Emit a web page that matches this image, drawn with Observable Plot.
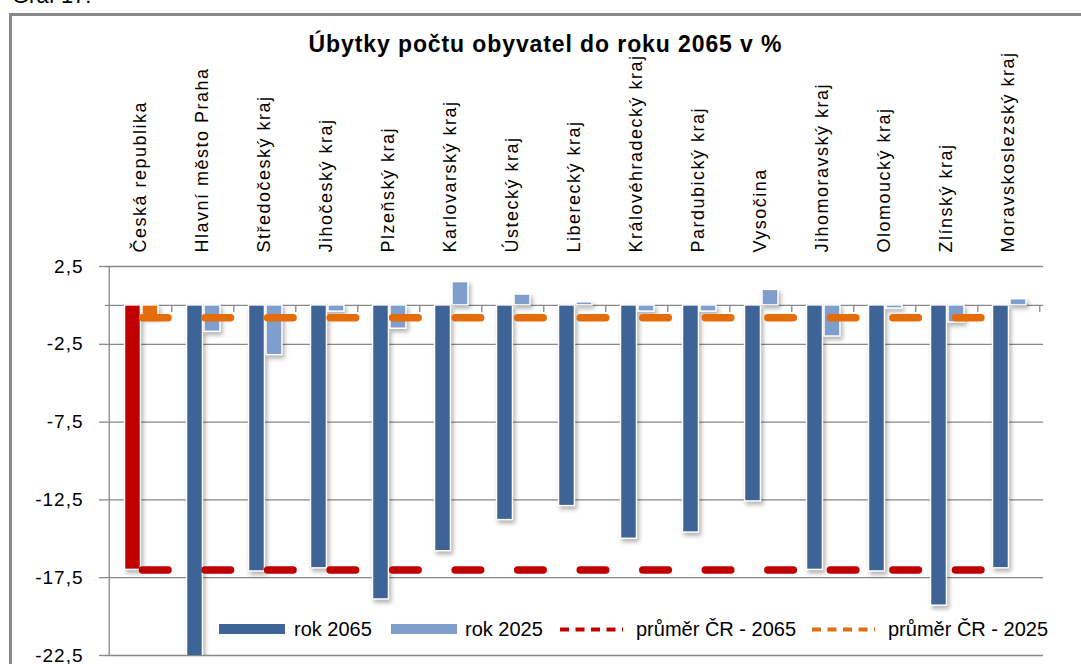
<!DOCTYPE html>
<html><head><meta charset="utf-8">
<script src="https://cdn.jsdelivr.net/npm/d3@7"></script>
<script src="https://cdn.jsdelivr.net/npm/@observablehq/plot@0.6"></script>
<style>
html,body{margin:0;padding:0;background:#fff;width:1081px;height:664px;overflow:hidden;font-family:"Liberation Sans",Arial,sans-serif;}
#frame{position:absolute;left:9px;top:13px;width:1100px;height:700px;border:3px solid #888;box-sizing:border-box;}
#graf{position:absolute;left:12px;top:-17px;font-size:22px;line-height:26px;color:#000;}
#chart{position:absolute;left:0;top:0;}
#title{position:absolute;left:0;width:1091px;top:31px;line-height:26px;text-align:center;font-weight:bold;font-size:23px;letter-spacing:0.9px;color:#000;}
</style></head><body>
<div id="frame"></div>
<div id="graf">Graf 17:</div>
<div id="chart"></div>
<div id="title">Úbytky počtu obyvatel do roku 2065 v %</div>
<script>
const regions = ["Česká republika","Hlavní město Praha","Středočeský kraj","Jihočeský kraj","Plzeňský kraj","Karlovarský kraj","Ústecký kraj","Liberecký kraj","Královéhradecký kraj","Pardubický kraj","Vysočina","Jihomoravský kraj","Olomoucký kraj","Zlínský kraj","Moravskoslezský kraj"];
const rok2065 = [-17.0,-23.3,-17.1,-16.9,-18.9,-15.8,-13.8,-12.9,-15.0,-14.6,-12.6,-17.0,-17.1,-19.3,-16.9];
const rok2025 = [-0.8,-1.7,-3.2,-0.4,-1.5,1.5,0.7,0.2,-0.4,-0.4,1.0,-2.0,-0.2,-1.1,0.4];
const prumer2065 = -17.0;
const prumer2025 = -0.8;
const yTicks = [2.5,-2.5,-7.5,-12.5,-17.5,-22.5];
const seriesNames = ["rok 2065","rok 2025","průměr ČR - 2065","průměr ČR - 2025"];

const DARK = "#3e6497", LIGHT = "#7f9ecb", RED = "#c00000", ORANGE = "#e46c0a", GRID = "#888888";
const W = 1081, H = 664, ML = 105, MR = 38, MT = 266, MB = 9;
const bw = (W - ML - MR) / regions.length;

const table = regions.map((r, i) => ({region: r, v65: rok2065[i], v25: rok2025[i], a65: prumer2065, a25: prumer2025}));
const isCR = d => d.region === regions[0];

const plot = Plot.plot({
  width: W, height: H, marginLeft: ML, marginRight: MR, marginTop: MT, marginBottom: MB,
  style: {fontFamily: "'Liberation Sans', Arial, sans-serif", background: "transparent", overflow: "visible", color: "#000"},
  x: {type: "band", domain: regions, padding: 0, axis: null},
  y: {domain: [-22.5, 2.5], axis: null},
  color: {type: "identity"},
  marks: [
    Plot.gridY(yTicks, {stroke: GRID, strokeOpacity: 1, strokeWidth: 1.3}),
    Plot.axisY(yTicks, {tickFormat: d => String(d).replace(".", ","), tickSize: 6, tickPadding: 16, stroke: GRID, strokeWidth: 1.3, strokeOpacity: 1, fill: "#000", fontSize: 19, label: null}),
    Plot.ruleY([0], {stroke: GRID, strokeWidth: 1.3}),
    Plot.ruleX([regions[0]], {dx: -bw / 2, y1: yTicks[0], y2: yTicks[yTicks.length - 1], stroke: GRID, strokeWidth: 1.3}),
    Plot.ruleX(regions, {dx: bw / 2, y1: 0, y2: -0.45, stroke: GRID, strokeWidth: 1.3}),
    Plot.barY(table, {x: "region", y: "v65", fill: d => isCR(d) ? RED : DARK, insetLeft: 15.5, insetRight: bw - 32, stroke: "#fff", strokeWidth: 1.5, clip: true}),
    Plot.barY(table, {x: "region", y: "v25", fill: d => isCR(d) ? ORANGE : LIGHT, insetLeft: 33, insetRight: bw - 49.5, stroke: "#fff", strokeWidth: 1.5}),
    Plot.lineY(table, {x: "region", y: "a65", stroke: RED, strokeWidth: 7.5, strokeDasharray: `25.5,${bw - 25.5}`, strokeDashoffset: -2, strokeLinecap: "round"}),
    Plot.lineY(table, {x: "region", y: "a25", stroke: ORANGE, strokeWidth: 7.5, strokeDasharray: `25.5,${bw - 25.5}`, strokeDashoffset: -2, strokeLinecap: "round"}),
    Plot.axisX({anchor: "top", tickRotate: -90, tickSize: 0, tickPadding: 14, textAnchor: "start", lineAnchor: "middle", fill: "#000", fontSize: 18, label: null})
  ]
});
document.getElementById("chart").appendChild(plot);

const svg = d3.select(plot);
svg.selectAll('g[aria-label="bar"] rect').style("filter", "drop-shadow(2px 3px 2px rgba(0,0,0,0.3))");
svg.selectAll('g[aria-label="x-axis tick label"] text').style("letter-spacing", "1.5px");
svg.selectAll('g[aria-label="y-axis tick label"] text').style("letter-spacing", "1px");

// legend
const lg = svg.append("g").attr("font-size", 20).attr("font-family", "'Liberation Sans', Arial, sans-serif").attr("fill", "#000").attr("text-anchor", "start");
const legendLayout = [
  {kind: "bar", color: DARK, x: 219, tx: 294},
  {kind: "bar", color: LIGHT, x: 391, tx: 465},
  {kind: "dash", color: RED, x: 560, tx: 636},
  {kind: "dash", color: ORANGE, x: 812, tx: 888}
];
legendLayout.forEach((l, i) => {
  if (l.kind === "bar") {
    lg.append("rect").attr("x", l.x).attr("y", 624).attr("width", 66).attr("height", 10).attr("fill", l.color);
  } else {
    lg.append("line").attr("x1", l.x).attr("x2", l.x + 63).attr("y1", 629.5).attr("y2", 629.5)
      .attr("stroke", l.color).attr("stroke-width", 4).attr("stroke-dasharray", "9,6.5");
  }
  lg.append("text").attr("x", l.tx).attr("y", 636).attr("text-anchor", "start").text(seriesNames[i]);
});
</script>
</body></html>
